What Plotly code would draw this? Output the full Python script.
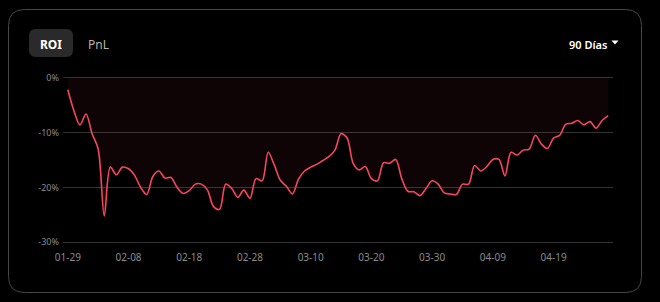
import datetime as dt
import plotly.graph_objects as go

# ---- data ----
start_date = dt.date(2025, 1, 29)
roi_values = [
    -2.2, -6.0, -8.6, -6.6, -10.2, -13.0, -25.2, -16.3, -17.7, -16.3,
    -16.6, -17.8, -20.0, -21.3, -18.0, -17.0, -18.3, -18.2, -20.0, -21.1,
    -20.6, -19.4, -19.4, -20.5, -23.5, -24.0, -19.4, -20.2, -21.8, -20.5,
    -22.0, -18.4, -18.8, -13.6, -15.9, -18.7, -19.8, -21.2, -18.5, -17.0,
    -16.3, -15.8, -15.1, -14.4, -13.2, -10.2, -11.0, -15.6, -16.8, -16.2,
    -18.4, -18.8, -15.5, -15.6, -14.9, -18.4, -20.7, -20.8, -21.5, -20.2,
    -18.8, -19.4, -21.0, -21.2, -21.3, -19.4, -19.4, -16.0, -17.0, -16.2,
    -14.9, -14.9, -17.9, -13.6, -14.1, -13.2, -13.0, -10.5, -12.1, -12.9,
    -11.0, -10.5, -8.5, -8.3, -7.8, -8.6, -8.0, -9.2, -7.8, -6.9,
]
dates = [start_date + dt.timedelta(days=i) for i in range(len(roi_values))]
y_tick_vals = [0, -10, -20, -30]
y_tick_text = ["0%", "-10%", "-20%", "-30%"]
tab_labels = ["ROI", "PnL"]
period_label = "90 Días"

# ---- geometry helpers (pixel -> paper) ----
W, H = 660, 302
ML, MR, MT, MB = 63, 47, 75, 57
PW, PH = W - ML - MR, H - MT - MB


def px(x):
    return (x - ML) / PW


def py(y):
    return (H - MB - y) / PH


def rounded_rect(x0, y0, x1, y1, r):
    p = [
        f"M {px(x0 + r)},{py(y0)}",
        f"L {px(x1 - r)},{py(y0)}",
        f"Q {px(x1)},{py(y0)} {px(x1)},{py(y0 + r)}",
        f"L {px(x1)},{py(y1 - r)}",
        f"Q {px(x1)},{py(y1)} {px(x1 - r)},{py(y1)}",
        f"L {px(x0 + r)},{py(y1)}",
        f"Q {px(x0)},{py(y1)} {px(x0)},{py(y1 - r)}",
        f"L {px(x0)},{py(y0 + r)}",
        f"Q {px(x0)},{py(y0)} {px(x0 + r)},{py(y0)}",
        "Z",
    ]
    return " ".join(p)


FONT = "Noto Sans, Open Sans, sans-serif"

fig = go.Figure()
fig.add_trace(go.Scatter(
    x=dates, y=roi_values, mode="lines",
    line=dict(color="#f6465d", width=1.6, shape="spline", smoothing=0.9),
    fill="tozeroy", fillcolor="rgba(246,70,93,0.055)",
    hoverinfo="skip", showlegend=False,
))

shapes = [
    dict(type="path", xref="paper", yref="paper",
         path=rounded_rect(8.5, 9.5, 641.5, 292.5, 16),
         line=dict(color="#474747", width=1), fillcolor="rgba(0,0,0,0)", layer="below"),
    dict(type="path", xref="paper", yref="paper",
         path=rounded_rect(29, 29, 73, 57, 7),
         line=dict(width=0), fillcolor="#2a2a2a", layer="below"),
    dict(type="path", xref="paper", yref="paper",
         path=f"M {px(611.5)},{py(40.5)} L {px(618.5)},{py(40.5)} L {px(615)},{py(44.5)} Z",
         line=dict(width=0), fillcolor="#ffffff"),
]

annotations = [
    dict(text=f"<b>{tab_labels[0]}</b>", x=px(51), y=py(44), xref="paper", yref="paper",
         showarrow=False, font=dict(family=FONT, size=12, color="#ffffff"),
         xanchor="center", yanchor="middle"),
    dict(text=tab_labels[1], x=px(98), y=py(44), xref="paper", yref="paper",
         showarrow=False, font=dict(family=FONT, size=12, color="#b9b4a6"),
         xanchor="center", yanchor="middle"),
    dict(text=period_label, x=px(609), y=py(45), xref="paper", yref="paper",
         showarrow=False, font=dict(family=FONT, size=11, color="#ffffff", weight=600),
         xanchor="right", yanchor="middle"),
]

fig.update_layout(
    width=W, height=H,
    margin=dict(l=ML, r=MR, t=MT, b=MB),
    paper_bgcolor="#000000", plot_bgcolor="#000000",
    shapes=shapes, annotations=annotations,
    font=dict(family=FONT, size=10, color="#8a8a8a"),
    xaxis=dict(
        type="date",
        range=[dt.datetime(2025, 1, 28, 5), dt.datetime(2025, 4, 28, 19)],
        tick0=start_date.isoformat(), dtick=10 * 86400000,
        tickformat="%m-%d", showgrid=False, zeroline=False, showline=False,
        ticks="", tickfont=dict(size=10, color="#8a8a8a"), fixedrange=True,
        ticklabelstandoff=5,
    ),
    yaxis=dict(
        range=[-30.5, 0.5], tickvals=y_tick_vals, ticktext=y_tick_text,
        showgrid=True, gridcolor="#333333", gridwidth=1, zeroline=False,
        showline=False, ticks="", tickfont=dict(size=9, color="#8a8a8a"),
        ticklabelstandoff=3, fixedrange=True,
    ),
)

fig.write_html("out.html", config={"displayModeBar": False})
